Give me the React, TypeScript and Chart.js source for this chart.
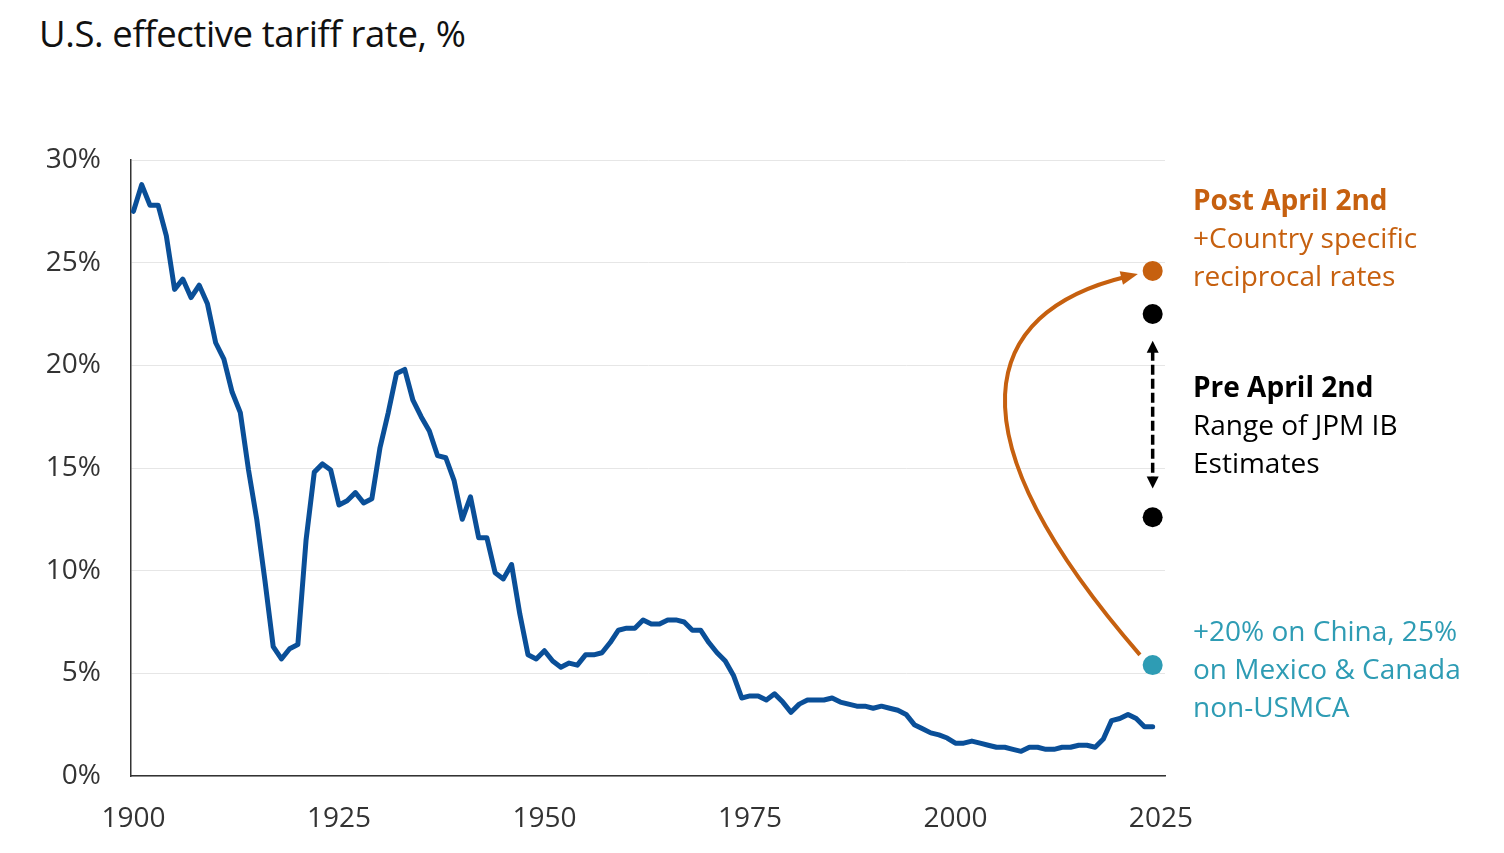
import { useEffect, useRef } from 'react';
import { Chart, ChartConfiguration, registerables } from 'chart.js';

Chart.register(...registerables);

// effective tariff rate, %, one value per year starting 1900
const FIRST_YEAR = 1900;
const tariffRate = [
  27.5, 28.8, 27.8, 27.8, 26.3, 23.7, 24.2, 23.3, 23.9, 23.0,
  21.1, 20.3, 18.7, 17.7, 14.9, 12.5, 9.5, 6.3, 5.7, 6.2,
  6.4, 11.5, 14.8, 15.2, 14.9, 13.2, 13.4, 13.8, 13.3, 13.5,
  16.0, 17.7, 19.6, 19.8, 18.3, 17.5, 16.8, 15.6, 15.5, 14.4,
  12.5, 13.6, 11.6, 11.6, 9.9, 9.6, 10.3, 7.9, 5.9, 5.7,
  6.1, 5.6, 5.3, 5.5, 5.4, 5.9, 5.9, 6.0, 6.5, 7.1,
  7.2, 7.2, 7.6, 7.4, 7.4, 7.6, 7.6, 7.5, 7.1, 7.1,
  6.5, 6.0, 5.6, 4.9, 3.8, 3.9, 3.9, 3.7, 4.0, 3.6,
  3.1, 3.5, 3.7, 3.7, 3.7, 3.8, 3.6, 3.5, 3.4, 3.4,
  3.3, 3.4, 3.3, 3.2, 3.0, 2.5, 2.3, 2.1, 2.0, 1.85,
  1.6, 1.6, 1.7, 1.6, 1.5, 1.4, 1.4, 1.3, 1.2, 1.4,
  1.4, 1.3, 1.3, 1.4, 1.4, 1.5, 1.5, 1.4, 1.8, 2.7,
  2.8, 3.0, 2.8, 2.4, 2.4,
];
const years = tariffRate.map((_, i) => FIRST_YEAR + i);

// scenario estimates (plotted at the last year)
const SCENARIO_YEAR = 2024;
const postApril = 24.6;
const preAprilRange = [22.5, 12.6];
const chinaMexCanada = 5.4;
const rangeArrow = [21.2, 14.0];

const xTicks = [1900, 1925, 1950, 1975, 2000, 2025];
const yTicks = [0, 5, 10, 15, 20, 25, 30];

const BLUE = '#0a4f98';
const ORANGE = '#c6600f';
const TEAL = '#2e9cb4';
const FONT = '"Open Sans", sans-serif';

const arrowPlugin = {
  id: 'arrows',
  afterDatasetsDraw(chart: Chart) {
    const { ctx, scales } = chart;
    const x = scales.x;
    const y = scales.y;
    ctx.save();

    // dashed double arrow for the pre April 2nd range
    const ax = x.getPixelForValue(SCENARIO_YEAR);
    const top = y.getPixelForValue(rangeArrow[0]);
    const bot = y.getPixelForValue(rangeArrow[1]);
    ctx.strokeStyle = '#000';
    ctx.fillStyle = '#000';
    ctx.lineWidth = 3.5;
    ctx.setLineDash([10, 4]);
    ctx.beginPath();
    ctx.moveTo(ax, top + 10);
    ctx.lineTo(ax, bot - 10);
    ctx.stroke();
    ctx.setLineDash([]);
    ctx.beginPath();
    ctx.moveTo(ax, top);
    ctx.lineTo(ax - 6, top + 12);
    ctx.lineTo(ax + 6, top + 12);
    ctx.closePath();
    ctx.fill();
    ctx.beginPath();
    ctx.moveTo(ax, bot);
    ctx.lineTo(ax - 6, bot - 12);
    ctx.lineTo(ax + 6, bot - 12);
    ctx.closePath();
    ctx.fill();

    // curved orange arrow from the teal point up to post April 2nd
    const p0x = x.getPixelForValue(2022.45);
    const p0y = y.getPixelForValue(5.9);
    const c1x = x.getPixelForValue(1998.7);
    const c1y = y.getPixelForValue(16.85);
    const c2x = x.getPixelForValue(2003.0);
    const c2y = y.getPixelForValue(22.6);
    const tipX = x.getPixelForValue(2022.2);
    const tipY = y.getPixelForValue(24.45);
    const ang = Math.atan2(tipY - c2y, tipX - c2x);
    const endX = tipX - 12 * Math.cos(ang);
    const endY = tipY - 12 * Math.sin(ang);
    ctx.strokeStyle = ORANGE;
    ctx.fillStyle = ORANGE;
    ctx.lineWidth = 4;
    ctx.beginPath();
    ctx.moveTo(p0x, p0y);
    ctx.bezierCurveTo(c1x, c1y, c2x, c2y, endX, endY);
    ctx.stroke();
    ctx.beginPath();
    ctx.moveTo(tipX, tipY);
    ctx.lineTo(tipX - 17 * Math.cos(ang) + 7 * Math.sin(ang), tipY - 17 * Math.sin(ang) - 7 * Math.cos(ang));
    ctx.lineTo(tipX - 17 * Math.cos(ang) - 7 * Math.sin(ang), tipY - 17 * Math.sin(ang) + 7 * Math.cos(ang));
    ctx.closePath();
    ctx.fill();
    ctx.restore();
  },
};

function TariffChart() {
  const canvasRef = useRef<HTMLCanvasElement>(null);
  const chartRef = useRef<Chart | null>(null);

  useEffect(() => {
    document.body.style.margin = '0';
    if (!canvasRef.current) return;
    if (chartRef.current) chartRef.current.destroy();
    const ctx = canvasRef.current.getContext('2d');
    if (!ctx) return;

    const config: ChartConfiguration = {
      type: 'line',
      data: {
        datasets: [
          {
            label: 'Effective tariff rate',
            data: years.map((yr, i) => ({ x: yr, y: tariffRate[i] })),
            borderColor: BLUE,
            borderWidth: 5,
            pointRadius: 0,
            tension: 0,
            borderJoinStyle: 'round',
            borderCapStyle: 'round',
          },
          {
            type: 'scatter',
            label: 'Pre April 2nd',
            data: preAprilRange.map(v => ({ x: SCENARIO_YEAR, y: v })),
            backgroundColor: '#000',
            borderWidth: 0,
            pointRadius: 10,
          },
          {
            type: 'scatter',
            label: 'Post April 2nd',
            data: [{ x: SCENARIO_YEAR, y: postApril }],
            backgroundColor: ORANGE,
            borderWidth: 0,
            pointRadius: 10,
          },
          {
            type: 'scatter',
            label: 'China, Mexico & Canada',
            data: [{ x: SCENARIO_YEAR, y: chinaMexCanada }],
            backgroundColor: TEAL,
            borderWidth: 0,
            pointRadius: 10,
          },
        ],
      },
      options: {
        responsive: false,
        animation: false,
        layout: { padding: { top: 160, right: 339, bottom: 0, left: 0 } },
        plugins: {
          legend: { display: false },
          tooltip: { enabled: false },
        },
        scales: {
          x: {
            type: 'linear',
            min: 1899.7,
            max: 2025.5,
            afterBuildTicks: (scale: any) => {
              scale.ticks = xTicks.map(v => ({ value: v }));
            },
            afterFit: (scale: any) => {
              scale.height = 77;
            },
            grid: { display: false, drawTicks: false },
            border: { color: '#333', width: 1.5 },
            ticks: {
              padding: 26,
              color: '#333',
              font: { family: FONT, size: 28 },
              callback: (v: any) => String(v),
            },
          },
          y: {
            min: 0,
            max: 30,
            afterBuildTicks: (scale: any) => {
              scale.ticks = yTicks.map(v => ({ value: v }));
            },
            afterFit: (scale: any) => {
              scale.width = 131;
            },
            grid: { color: '#e6e6e6', lineWidth: 1, drawTicks: false },
            border: { color: '#333', width: 1.5 },
            ticks: {
              padding: 30,
              color: '#333',
              font: { family: FONT, size: 28 },
              callback: (v: any) => `${v}%`,
            },
          },
        },
      },
      plugins: [arrowPlugin],
    };

    chartRef.current = new Chart(ctx, config);
    return () => {
      if (chartRef.current) chartRef.current.destroy();
    };
  }, []);

  const note = (top: number, color: string, lines: string[], boldFirst: boolean) => (
    <div
      style={{
        position: 'absolute',
        left: 1193,
        top,
        color,
        fontFamily: FONT,
        fontSize: 28,
        lineHeight: '38px',
      }}
    >
      {lines.map((l, i) => (
        <div key={i} style={{ fontWeight: boldFirst && i === 0 ? 700 : 400, whiteSpace: 'nowrap' }}>{l}</div>
      ))}
    </div>
  );

  return (
    <div style={{ position: 'relative', width: 1504, height: 853, background: '#fff' }}>
      <div
        style={{
          position: 'absolute',
          left: 39,
          top: 8,
          fontFamily: FONT,
          fontSize: 36.5,
          color: '#111',
          letterSpacing: '-0.4px',
          whiteSpace: 'nowrap',
        }}
      >
        U.S. effective tariff rate, %
      </div>
      <canvas ref={canvasRef} width={1504} height={853} style={{ position: 'absolute', left: 0, top: 0 }} />
      {note(180, ORANGE, ['Post April 2nd', '+Country specific', 'reciprocal rates'], true)}
      {note(367, '#000', ['Pre April 2nd', 'Range of JPM IB', 'Estimates'], true)}
      {note(611, TEAL, ['+20% on China, 25%', 'on Mexico & Canada', 'non-USMCA'], false)}
    </div>
  );
}

export default function App() {
  return <TariffChart />;
}
